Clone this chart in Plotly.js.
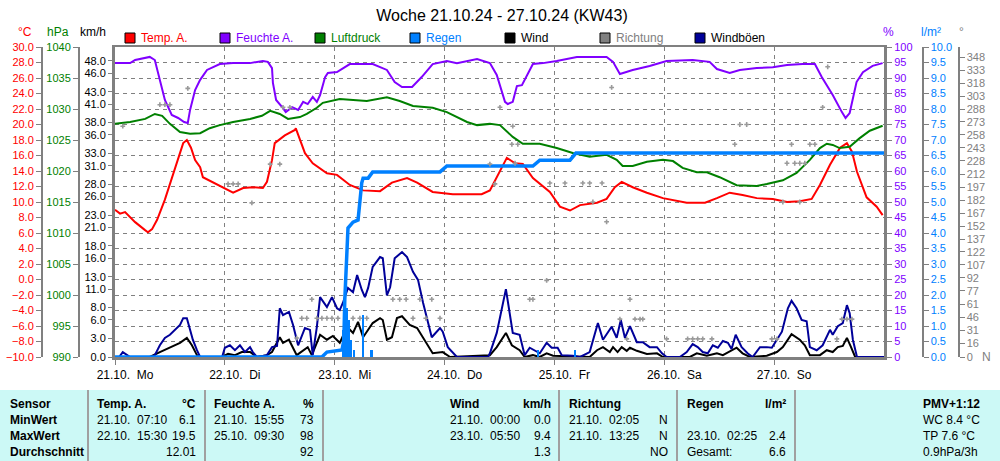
<!DOCTYPE html>
<html>
<head>
<meta charset="utf-8">
<script src="https://cdn.plot.ly/plotly-3.0.1.min.js"></script>
<style>
  html, body { margin: 0; padding: 0; background: #fff; }
  #chart { width: 1000px; height: 461px; }
</style>
</head>
<body>
<div id="chart"></div>
<script>
'use strict';

// hours since 21.10. 00:00
const dayTicks = [0, 24, 48, 72, 96, 120, 144];
const dayLabels = ['21.10.\u00a0\u00a0Mo', '22.10.\u00a0\u00a0Di', '23.10.\u00a0\u00a0Mi', '24.10.\u00a0\u00a0Do',
  '25.10.\u00a0\u00a0Fr', '26.10.\u00a0\u00a0Sa', '27.10.\u00a0\u00a0So'];

// Temp. A. (°C)
const tempH = [0, 1.1, 2.2, 4.4, 6.5, 7.2, 8.1, 9.2, 10.9, 12.4, 13.8, 14.9, 15.7, 16.6, 17.5, 18.6, 19.2, 21.4, 23.6, 25.8,
  28.0, 30.1, 32.3, 33.2, 34.3, 34.9, 37.1, 39.3, 39.5, 40.4, 41.5, 43.2, 46.3, 48.5, 51.3, 54.2, 57.9, 60.5, 63.8, 66.0,
  69.4, 73.8, 80.1, 81.9, 84.1, 85.6, 87.4, 89.1, 91.3, 95.0, 97.2, 99.4, 101.6, 105.3, 107.4, 109.2, 110.7, 113.1, 116.2, 119.7,
  124.9, 128.9, 131.5, 134.3, 137.1, 140.2, 143.7, 146.8, 149.6, 152.2, 154.0, 156.2, 158.4, 159.9, 161.0, 162.1, 164.2, 166.4, 167.7];
const tempV = [9.0, 8.5, 8.7, 7.4, 6.4, 6.1, 6.5, 7.7, 10.3, 13.1, 15.4, 17.6, 18.0, 17.0, 15.4, 14.5, 13.2, 12.5, 11.8, 11.2,
  11.8, 11.9, 11.8, 12.6, 15.4, 17.6, 18.6, 19.3, 19.5, 18.0, 16.3, 15.0, 13.7, 13.5, 12.2, 11.5, 11.4, 12.5, 13.1, 12.5,
  11.3, 11.0, 11.0, 11.5, 14.1, 15.7, 15.0, 14.9, 13.1, 11.3, 9.4, 8.9, 9.6, 9.9, 10.4, 11.9, 12.6, 11.9, 11.2, 10.5,
  9.9, 9.9, 10.5, 11.2, 10.9, 10.5, 10.4, 10.0, 10.1, 10.4, 12.2, 14.8, 17.0, 17.6, 16.5, 13.9, 10.6, 9.4, 8.3];

// Feuchte A. (%)
const humH = [0, 3.3, 4.4, 7.6, 8.7, 9.8, 10.9, 12.4, 13.8, 15.1, 15.9, 16.4, 17.5, 18.6, 20.1, 22.9, 25.8, 29.5, 32.3, 33.4,
  34.3, 34.5, 35.2, 36.7, 37.3, 38.7, 40.0, 41.1, 42.1, 43.2, 44.1, 44.8, 45.9, 46.5, 48.5, 51.3, 56.3, 59.4, 61.1, 62.7,
  64.9, 67.0, 69.4, 72.5, 74.7, 79.1, 81.9, 83.4, 85.2, 85.8, 86.9, 87.8, 88.9, 91.3, 93.5, 96.5, 100.9, 107.4, 108.8, 110.3,
  113.1, 116.8, 120.5, 126.2, 129.9, 131.5, 134.3, 136.5, 140.2, 143.7, 146.8, 150.2, 152.9, 154.4, 156.8, 158.8, 159.6, 160.5, 162.0, 163.4,
  165.5, 167.7];
const humV = [94.8, 94.8, 95.8, 96.8, 95.8, 89.4, 82.9, 78.1, 77.1, 75.8, 75.5, 79.7, 86.1, 89.4, 92.6, 94.5, 94.8, 94.8, 95.5, 95.2,
  93.2, 88.4, 82.9, 80.3, 79.0, 80.6, 79.7, 82.3, 81.6, 83.9, 82.3, 84.5, 90.3, 91.6, 91.9, 94.5, 94.5, 92.6, 88.7, 87.1,
  87.1, 90.3, 94.5, 95.5, 94.8, 96.1, 94.8, 91.0, 82.3, 81.6, 82.3, 87.4, 87.7, 94.5, 94.8, 95.5, 96.8, 96.8, 95.2, 91.3,
  92.6, 93.9, 95.5, 95.8, 95.2, 92.9, 91.6, 92.6, 93.2, 93.5, 94.2, 94.5, 94.5, 90.3, 84.5, 79.0, 77.1, 78.7, 88.7, 91.9,
  93.9, 94.8];

// Luftdruck (hPa)
const presH = [0, 3.3, 6.6, 8.7, 10.3, 12.0, 14.2, 16.4, 18.6, 20.7, 22.9, 25.8, 29.5, 32.1, 33.9, 36.0, 37.8, 40.4, 41.9, 44.1,
  45.4, 49.1, 51.3, 55.0, 59.4, 62.2, 65.1, 69.4, 72.5, 76.9, 79.1, 81.9, 84.1, 86.9, 89.1, 92.8, 96.5, 100.0, 103.7, 107.4,
  109.6, 110.9, 113.1, 116.2, 119.7, 121.9, 124.0, 127.1, 129.3, 132.1, 135.8, 140.2, 142.4, 145.9, 148.9, 151.8, 154.0, 155.5, 156.8, 158.3,
  160.5, 162.7, 164.9, 167.7];
const presV = [1027.6, 1027.9, 1028.4, 1029.2, 1028.9, 1027.6, 1026.3, 1026.0, 1026.1, 1026.9, 1027.4, 1027.9, 1028.4, 1028.9, 1029.7, 1029.2, 1028.4, 1028.7, 1029.2, 1030.2,
  1031.0, 1031.6, 1031.5, 1031.3, 1031.9, 1031.3, 1030.5, 1030.2, 1029.5, 1027.9, 1027.4, 1027.6, 1027.4, 1025.5, 1024.4, 1024.4, 1023.7, 1022.9, 1022.3, 1022.6,
  1021.8, 1020.8, 1020.8, 1021.5, 1021.8, 1021.6, 1020.5, 1019.8, 1019.8, 1019.0, 1017.7, 1017.6, 1017.9, 1018.5, 1019.7, 1021.8, 1023.7, 1024.4, 1024.2, 1023.7,
  1023.9, 1025.3, 1026.5, 1027.3];

// Regen, cumulative (l/m²)
const rainSumH = [0, 45.2, 46.3, 49.6, 50.0, 50.2, 50.9, 52.0, 53.1, 53.5, 53.9, 54.2, 55.3, 56.3, 71.0, 72.5, 91.3, 92.8, 99.4, 100.7, 168];
const rainSumV = [0, 0, 0.16, 0.23, 0.55, 1.84, 4.16, 4.35, 4.42, 5.06, 5.61, 5.77, 5.77, 5.97, 5.97, 6.16, 6.16, 6.35, 6.35, 6.58, 6.58];

// Regen, per interval (l/m²)
const rainBarH = [49.8, 50.2, 50.7, 51.1, 51.5, 52.2, 54.2, 56.1, 92.4, 100.5];
const rainBarV = [0.87, 1.68, 1.58, 1.2, 0.55, 0.23, 1.35, 0.23, 0.23, 0.23];

// Wind (km/h)
const windH = [0, 7.6, 9.8, 12.0, 14.2, 15.7, 16.8, 17.9, 18.6, 23.4, 24.7, 26.2, 27.7, 29.5, 31.0, 33.2, 34.3, 36.0, 36.7, 38.0,
  39.7, 42.1, 43.0, 44.8, 46.3, 47.6, 49.1, 50.7, 52.0, 53.1, 54.2, 56.3, 57.9, 58.5, 59.4, 60.5, 61.6, 62.7, 64.4, 66.0,
  68.1, 69.4, 71.6, 73.2, 81.9, 83.4, 85.4, 86.7, 88.4, 89.5, 91.3, 92.8, 94.3, 95.7, 103.7, 105.3, 106.6, 108.1, 108.8, 109.8,
  110.7, 111.8, 112.5, 114.0, 116.2, 118.4, 119.7, 125.6, 127.1, 129.3, 131.5, 132.8, 135.8, 137.1, 138.7, 142.4, 144.6, 145.9, 147.8, 149.6,
  150.7, 151.8, 154.0, 155.5, 156.8, 157.9, 159.0, 159.9, 160.8, 161.7, 168];
const windV = [0, 0, 0.8, 1.5, 2.3, 3.1, 1.9, 0.3, 0, 0, 0.5, 0.3, 0.8, 0.8, 0, 0.3, 0.8, 3.2, 2.3, 2.8,
  0.3, 1.6, 0.3, 3.6, 2.8, 3.4, 2.3, 4.9, 3.9, 5.7, 3.2, 5.5, 6.3, 6.0, 2.8, 3.2, 6.3, 6.6, 5.2, 4.7,
  2.3, 0.6, 0.8, 0, 0.3, 1.6, 3.9, 1.9, 1.1, 0, 0.3, 0, 0.6, 0.2, 0, 1.1, 1.6, 0.8, 1.6, 0.8,
  1.6, 1.0, 1.5, 1.0, 0.5, 0.6, 0, 0, 0.6, 0.2, 0.6, 0.3, 1.5, 0.6, 0, 0.2, 0.8, 1.6, 3.7, 2.8,
  1.9, 0.3, 0.3, 1.1, 0.8, 1.6, 1.8, 3.1, 1.6, 0, 0];

// Windböen (km/h)
const gustH = [0, 0.9, 1.7, 2.6, 3.3, 8.1, 8.7, 9.8, 10.9, 12.0, 13.1, 14.2, 14.9, 15.7, 16.4, 17.0, 17.9, 18.6, 23.4, 24.0,
  25.1, 26.2, 27.3, 28.4, 29.5, 30.1, 31.0, 33.2, 34.3, 35.4, 36.0, 36.7, 38.0, 38.9, 40.0, 41.5, 42.6, 43.2, 44.1, 44.8,
  46.3, 47.4, 48.5, 49.1, 49.8, 50.9, 52.0, 52.9, 53.9, 54.6, 55.3, 56.3, 57.9, 58.5, 59.4, 60.1, 61.1, 62.7, 63.8, 65.1,
  66.2, 67.3, 69.2, 71.0, 71.6, 72.7, 74.7, 81.5, 81.9, 83.4, 85.4, 86.9, 88.4, 89.5, 90.6, 92.8, 94.3, 95.4, 96.7, 97.6,
  100.0, 101.6, 103.7, 105.5, 106.6, 108.5, 109.6, 110.5, 111.4, 112.5, 114.0, 115.3, 116.8, 118.4, 119.5, 120.5, 123.4, 124.9, 126.2, 127.3,
  128.4, 129.5, 130.6, 131.7, 132.8, 133.9, 134.7, 135.6, 136.9, 138.2, 139.3, 140.9, 142.4, 143.5, 144.6, 145.7, 147.0, 147.8, 148.9, 150.0,
  151.1, 151.8, 153.3, 154.6, 156.2, 156.8, 157.9, 159.0, 159.9, 160.5, 161.2, 162.1, 168];
const gustV = [0, 0, 0.8, 0.3, 0, 0, 0.3, 1.9, 3.1, 3.6, 4.4, 5.2, 6.3, 6.3, 4.4, 2.8, 1.1, 0, 0, 1.5,
  1.9, 1.1, 1.9, 0.8, 1.6, 0.8, 0, 0.3, 1.6, 1.8, 7.9, 6.8, 7.3, 5.2, 1.9, 4.7, 4.4, 0.3, 4.9, 9.7,
  8.1, 9.7, 7.9, 7.6, 8.8, 11.2, 10.5, 13.3, 10.9, 9.7, 11.2, 14.6, 16.2, 16.0, 10.0, 11.3, 16.0, 17.0, 16.2, 13.8,
  12.5, 8.8, 3.2, 4.7, 4.1, 1.6, 0, 0, 0.6, 3.9, 11.0, 3.9, 3.6, 0.3, 1.5, 0.6, 2.3, 1.5, 1.5, 0.3,
  0.2, 0, 0.8, 5.5, 2.8, 4.9, 3.1, 6.0, 3.1, 5.0, 2.4, 2.4, 1.6, 1.6, 0.6, 0, 0, 0.8, 2.1, 1.6,
  0.8, 0.6, 1.9, 1.5, 2.6, 2.3, 1.3, 3.6, 1.6, 0.6, 0, 1.6, 1.6, 1.5, 2.8, 4.1, 7.9, 9.1, 7.9, 6.0,
  5.8, 1.6, 1.1, 1.9, 4.4, 3.6, 5.0, 5.5, 8.4, 7.1, 2.8, 0, 0];

// Richtung (°)
const dirH = [1.7, 9.8, 10.9, 12.0, 15.9, 24.7, 25.8, 26.9, 29.9, 33.9, 36.0, 36.7, 38.2, 39.7, 40.8, 41.9, 43.0, 44.1, 45.2, 46.3,
  47.4, 48.7, 52.0, 53.5, 55.0, 60.7, 62.2, 63.6, 65.1, 66.6, 67.9, 69.2, 71.0, 81.9, 83.0, 84.1, 86.7, 86.9, 87.4, 88.0,
  90.6, 91.3, 94.3, 95.0, 98.3, 102.2, 103.7, 104.4, 106.4, 107.4, 108.5, 110.3, 111.8, 112.5, 113.6, 114.7, 115.3, 120.5, 125.1, 126.2,
  127.3, 128.4, 130.4, 135.4, 136.5, 138.0, 143.5, 144.6, 145.9, 146.8, 147.8, 148.5, 149.6, 149.6, 150.7, 151.8, 152.9, 154.6, 155.7, 157.7,
  158.8, 159.9, 161.0];
const dirV = [268, 293, 293, 293, 312, 201, 201, 201, 179, 224, 224, 290, 290, 22, 45, 45, 67, 45, 45, 45,
  45, 45, 45, 45, 45, 67, 67, 67, 45, 67, 45, 67, 45, 224, 201, 290, 247, 268, 225, 247,
  67, 67, 89, 202, 202, 202, 202, 180, 202, 157, 313, 44, 21, 67, 44, 44, 44, 21, 21, 21,
  21, 21, 21, 247, 270, 270, 21, 21, 180, 225, 247, 225, 225, 180, 225, 247, 247, 290, 337, 21,
  44, 44, 44];

// axis ticks
const kmhTicks = [0, 3, 6, 8, 11, 13, 16, 18, 21, 23, 26, 28, 31, 33, 36, 38, 41, 43, 46, 48];
const degTicks = [0, 16, 31, 46, 61, 77, 92, 107, 122, 137, 152, 167, 182, 197, 212, 228, 243, 258, 273, 288, 303, 318, 333, 348];

const legendNames = ['Temp. A.', 'Feuchte A.', 'Luftdruck', 'Regen', 'Wind', 'Richtung', 'Windböen'];
const legendColors = ['#ff0000', '#8000ff', '#008000', '#0080ff', '#000000', '#808080', '#000099'];
const legendTextColors = ['#ff0000', '#8000ff', '#008000', '#0080ff', '#000000', '#808080', '#000000'];

// statistics table
const statRows = ['Sensor', 'MinWert', 'MaxWert', 'Durchschnitt'];
const statTemp = [['Temp. A.', '°C'], ['21.10.\u00a0\u00a007:10', '6.1'], ['22.10.\u00a0\u00a015:30', '19.5'], ['', '12.01']];
const statHum = [['Feuchte A.', '%'], ['21.10.\u00a0\u00a015:55', '73'], ['25.10.\u00a0\u00a009:30', '98'], ['', '92']];
const statWind = [['Wind', 'km/h'], ['21.10.\u00a0\u00a000:00', '0.0'], ['23.10.\u00a0\u00a005:50', '9.4'], ['', '1.3']];
const statDir = [['Richtung', ''], ['21.10.\u00a0\u00a002:05', 'N'], ['21.10.\u00a0\u00a013:25', 'N'], ['', 'NO']];
const statRain = [['Regen', 'l/m²'], ['', ''], ['23.10.\u00a0\u00a002:25', '2.4'], ['Gesamt:', '6.6']];
const statPmv = ['PMV+1:12', 'WC 8.4 °C', 'TP 7.6 °C', '0.9hPa/3h'];

const W = 1000, H = 461;
const FONT = 'Liberation Sans, Arial, sans-serif';
const GRAY = '#808080';
const px = (x) => x / W;
const py = (y) => 1 - y / H;

const data = [
  {x: windH, y: windV, yaxis: 'y', type: 'scatter', mode: 'lines', line: {color: '#000000', width: 2}},
  {x: gustH, y: gustV, yaxis: 'y', type: 'scatter', mode: 'lines', line: {color: '#000099', width: 2}},
  {x: tempH, y: tempV, yaxis: 'y2', type: 'scatter', mode: 'lines', line: {color: '#ff0000', width: 2}},
  {x: presH, y: presV, yaxis: 'y3', type: 'scatter', mode: 'lines', line: {color: '#008000', width: 2}},
  {x: humH, y: humV, yaxis: 'y4', type: 'scatter', mode: 'lines', line: {color: '#8000ff', width: 2}},
  {x: rainBarH, y: rainBarV, yaxis: 'y5', type: 'bar', width: 0.6, marker: {color: '#0080ff', line: {width: 0}}},
  {x: rainSumH, y: rainSumV, yaxis: 'y5', type: 'scatter', mode: 'lines', line: {color: '#0080ff', width: 3.5}},
  {x: dirH, y: dirV, yaxis: 'y6', type: 'scatter', mode: 'markers',
    marker: {symbol: 'cross', size: 4, color: '#9a9a9a', line: {width: 0}}},
];

const yDomain = [py(357), py(47)];
const tickFont = (c) => ({family: FONT, size: 11, color: c});

const freeAxis = (pos, side, range, extra) => Object.assign({
  overlaying: 'y', anchor: 'free', position: pos, side, range, domain: yDomain,
  showgrid: false, zeroline: false, showline: true, linecolor: GRAY, linewidth: 1.5,
  ticks: 'outside', ticklen: 5, tickcolor: GRAY,
}, extra);

const shapes = [];
const annotations = [];

// table background and separators
shapes.push({type: 'rect', xref: 'paper', yref: 'paper', x0: 0, x1: 1, y0: 0, y1: py(390),
  fillcolor: '#ccf9f6', line: {width: 0}, layer: 'below'});
[88, 205, 323, 559, 677, 795].forEach((sx) => {
  shapes.push({type: 'line', xref: 'paper', yref: 'paper', x0: px(sx), x1: px(sx), y0: 0, y1: py(390),
    line: {color: '#a0a0a0', width: 2}});
});

// legend
legendNames.forEach((name, i) => {
  const lx = 125 + i * 95;
  shapes.push({type: 'rect', xref: 'paper', yref: 'paper', x0: px(lx), x1: px(lx + 10), y0: py(43), y1: py(33),
    fillcolor: legendColors[i], line: {color: '#000000', width: 1}});
  annotations.push({xref: 'paper', yref: 'paper', x: px(lx + 14), y: py(38), xanchor: 'left', yanchor: 'middle',
    text: name, showarrow: false, font: {family: FONT, size: 12, color: legendTextColors[i]}});
});

// unit headers above axes
const unitHeads = [['°C', 25, '#ff0000'], ['hPa', 58, '#008000'], ['km/h', 93, '#000000'],
  ['%', 888, '#8000ff'], ['l/m²', 931, '#0080ff'], ['°', 961, GRAY]];
unitHeads.forEach(([t, ux, c]) => {
  annotations.push({xref: 'paper', yref: 'paper', x: px(ux), y: py(32), xanchor: 'center', yanchor: 'middle',
    text: t, showarrow: false, font: {family: FONT, size: 12, color: c}});
});
annotations.push({xref: 'paper', yref: 'paper', x: px(986), y: py(357), xanchor: 'center', yanchor: 'middle',
  text: 'N', showarrow: false, font: {family: FONT, size: 12, color: GRAY}});

// table text
const rowY = [404, 420, 436, 452];
const cell = (text, x, y, anchor, bold) => {
  if (!text) return;
  annotations.push({xref: 'paper', yref: 'paper', x: px(x), y: py(y), xanchor: anchor, yanchor: 'middle',
    text: bold ? '<b>' + text + '</b>' : text, showarrow: false, font: {family: FONT, size: 12, color: '#000000'}});
};
statRows.forEach((t, r) => cell(t, 8, rowY[r], 'left', true));
[[statTemp, 95, 198], [statHum, 212, 316], [statWind, 448, 553], [statDir, 567, 670], [statRain, 685, 788]]
  .forEach(([col, lx, rx]) => {
    col.forEach((pair, r) => {
      cell(pair[0], lx, rowY[r], 'left', r === 0);
      cell(pair[1], rx, rowY[r], 'right', r === 0);
    });
  });
statPmv.forEach((t, r) => cell(t, 921, rowY[r], 'left', r === 0));

const layout = {
  width: W,
  height: H,
  margin: {l: 0, r: 0, t: 0, b: 0},
  paper_bgcolor: '#ffffff',
  plot_bgcolor: '#ffffff',
  showlegend: false,
  bargap: 0,
  title: {
    text: 'Woche 21.10.24 - 27.10.24 (KW43)',
    x: 0.502, xanchor: 'center', y: py(15), yanchor: 'middle',
    font: {family: FONT, size: 16, color: '#000000'},
  },
  xaxis: {
    domain: [px(115), px(884)],
    range: [0, 168],
    tickvals: dayTicks,
    ticktext: dayLabels,
    ticks: 'outside', ticklen: 5, tickcolor: GRAY,
    ticklabelshift: 10,
    tickfont: {family: FONT, size: 12, color: '#000000'},
    showline: true, linecolor: GRAY, linewidth: 2.5, mirror: true,
    showgrid: true, gridcolor: GRAY, gridwidth: 1, griddash: '4px,4px',
    zeroline: false,
  },
  yaxis: {
    domain: yDomain,
    range: [0, 50.24],
    tickvals: kmhTicks,
    ticktext: kmhTicks.map((v) => v.toFixed(1)),
    ticks: 'outside', ticklen: 4, tickcolor: GRAY,
    tickfont: tickFont('#000000'),
    showline: true, linecolor: GRAY, linewidth: 3, mirror: true,
    showgrid: false, zeroline: false,
  },
  yaxis2: freeAxis(px(41), 'left', [-10, 30], {dtick: 2, tickformat: '.1f', tickfont: tickFont('#ff0000')}),
  yaxis3: freeAxis(px(78), 'left', [990, 1040], {dtick: 5, tickfont: tickFont('#008000')}),
  yaxis4: {
    overlaying: 'y', anchor: 'x', side: 'right', domain: yDomain,
    range: [0, 100], dtick: 5,
    ticks: 'outside', ticklen: 5, tickcolor: GRAY,
    tickfont: tickFont('#8000ff'),
    showline: true, linecolor: GRAY, linewidth: 3,
    showgrid: true, gridcolor: GRAY, gridwidth: 1, griddash: '4px,4px',
    zeroline: false,
  },
  yaxis5: freeAxis(px(922), 'right', [0, 10], {dtick: 0.5, tickformat: '.1f', tickfont: tickFont('#0080ff')}),
  yaxis6: freeAxis(px(958), 'right', [0, 360], {tickvals: degTicks, tickfont: tickFont(GRAY)}),
  shapes,
  annotations,
};

Plotly.newPlot('chart', data, layout, {staticPlot: true, displayModeBar: false});
</script>
</body>
</html>
